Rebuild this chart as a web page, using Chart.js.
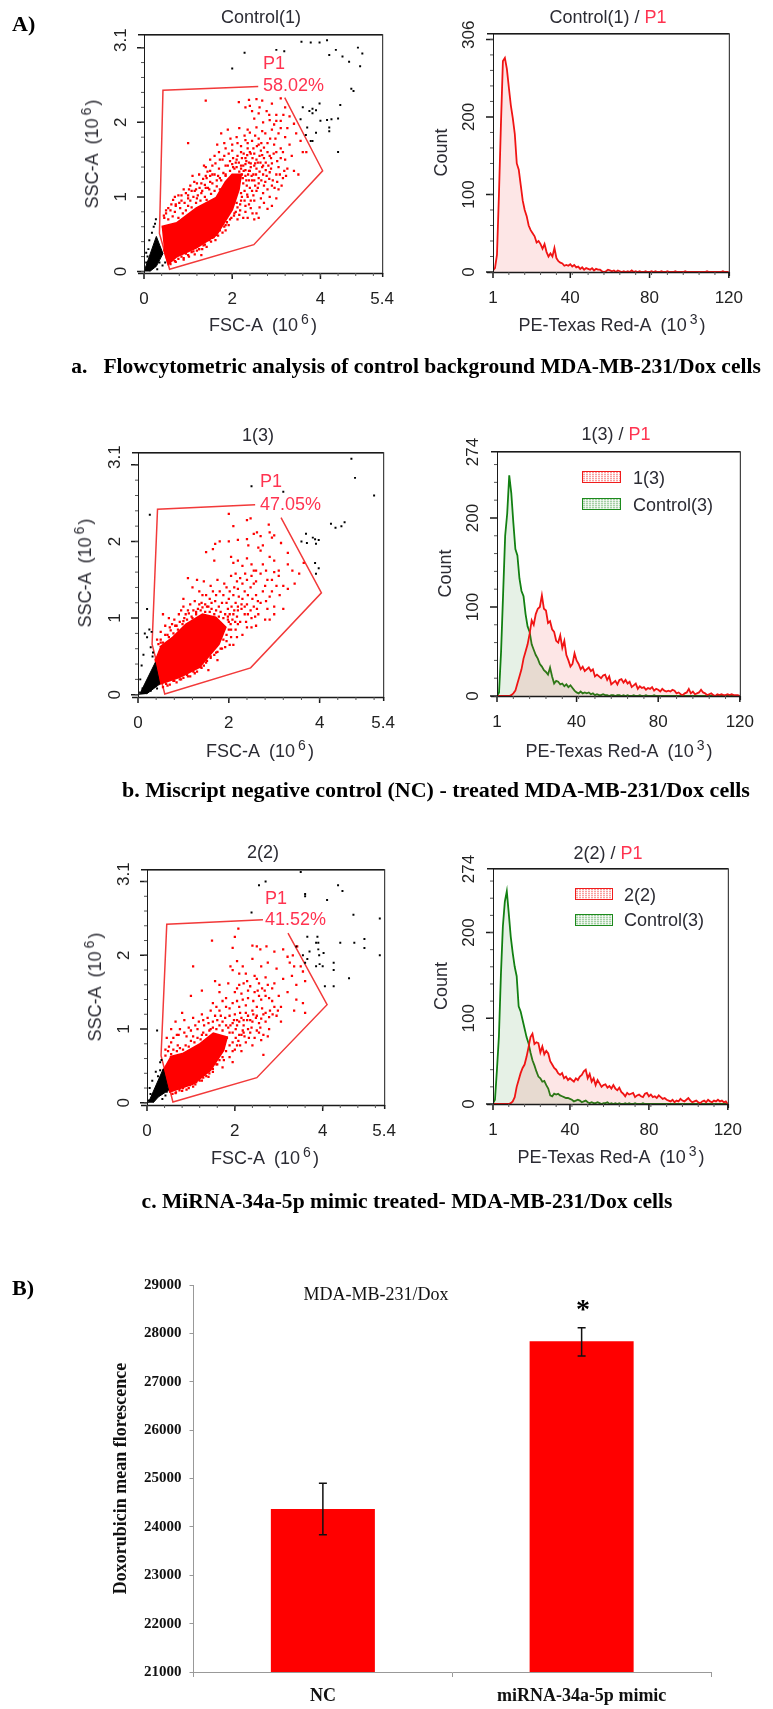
<!DOCTYPE html>
<html>
<head>
<meta charset="utf-8">
<title>Doxorubicin uptake</title>
<script src="https://cdn.jsdelivr.net/npm/chart.js@4"></script>
<style>
html, body { margin: 0; padding: 0; background: #fff; }
#page { position: relative; width: 773px; height: 1709px; overflow: hidden; filter: blur(0.35px); }
canvas { position: absolute; }
.t { position: absolute; white-space: pre; font-family: "Liberation Sans", Arial, sans-serif; font-size: 18px; color: #2b2b33; transform: translate(-50%, -50%); line-height: 1; }
.l { transform: translate(0, -50%); }
.r { transform: translate(-50%, -50%) rotate(-90deg); z-index: 2; }
.t sup { font-size: 14px; line-height: 0; vertical-align: 7px; margin: 0 2px 0 3px; }
.p1 { color: #ff3350; }
.s { font-family: "Liberation Serif", serif; font-weight: bold; color: #000; }
.box { position: absolute; box-sizing: border-box; border: 1.5px solid; }
.boxRed { border-color: #f01c1c; background: repeating-linear-gradient(0deg, rgba(255,255,255,.7) 0 1px, transparent 1px 2px), repeating-linear-gradient(90deg, #f9a0a0 0 2px, #fff 2px 3px); }
.boxGreen { border-color: #1c8a1c; background: repeating-linear-gradient(0deg, rgba(255,255,255,.6) 0 1px, transparent 1px 2px), repeating-linear-gradient(90deg, #a5cfa5 0 2px, #e8f3e8 2px 3px); }
</style>
</head>
<body>
<div id="page">
  <div class="t l s" style="left:12px;top:24px;font-size:22px">A)</div>
  <div class="t s" style="left:416px;top:367px;font-size:21.5px">a.   Flowcytometric analysis of control background MDA-MB-231/Dox cells</div>
  <div class="t s" style="left:436px;top:790px;font-size:22px">b. Miscript negative control (NC) - treated MDA-MB-231/Dox cells</div>
  <div class="t s" style="left:407px;top:1202px;font-size:21.6px">c. MiRNA-34a-5p mimic treated- MDA-MB-231/Dox cells</div>
  <div class="t l s" style="left:12px;top:1288px;font-size:22px">B)</div>

  <div class="t" style="left:261px;top:17px">Control(1)</div>
  <div class="t" style="left:608px;top:17px">Control(1) / <span class="p1">P1</span></div>
  <div class="t" style="left:258px;top:435px">1(3)</div>
  <div class="t" style="left:616px;top:434px">1(3) / <span class="p1">P1</span></div>
  <div class="t" style="left:263px;top:852px">2(2)</div>
  <div class="t" style="left:608px;top:853px">2(2) / <span class="p1">P1</span></div>

  <div class="t" style="left:263px;top:325px">FSC-A  (10<sup>6</sup>)</div>
  <div class="t" style="left:612px;top:325px">PE-Texas Red-A  (10<sup>3</sup>)</div>
  <div class="t" style="left:260px;top:751px">FSC-A  (10<sup>6</sup>)</div>
  <div class="t" style="left:619px;top:751px">PE-Texas Red-A  (10<sup>3</sup>)</div>
  <div class="t" style="left:265px;top:1158px">FSC-A  (10<sup>6</sup>)</div>
  <div class="t" style="left:611px;top:1157px">PE-Texas Red-A  (10<sup>3</sup>)</div>
  <div class="t r" style="left:92px;top:154px">SSC-A  (10<sup>6</sup>)</div>
  <div class="t r" style="left:85px;top:573px">SSC-A  (10<sup>6</sup>)</div>
  <div class="t r" style="left:95px;top:987px">SSC-A  (10<sup>6</sup>)</div>

  <div class="t l p1" style="left:263px;top:63px;z-index:2">P1</div>
  <div class="t l p1" style="left:263px;top:85px;z-index:2">58.02%</div>
  <div class="t l p1" style="left:260px;top:481px;z-index:2">P1</div>
  <div class="t l p1" style="left:260px;top:504px;z-index:2">47.05%</div>
  <div class="t l p1" style="left:265px;top:898px;z-index:2">P1</div>
  <div class="t l p1" style="left:265px;top:919px;z-index:2">41.52%</div>

  <div class="box boxRed" style="left:582px;top:471px;width:39px;height:12px;z-index:2"></div>
  <div class="t l" style="left:633px;top:478px;z-index:2">1(3)</div>
  <div class="box boxGreen" style="left:582px;top:498px;width:39px;height:12px;z-index:2"></div>
  <div class="t l" style="left:633px;top:505px;z-index:2">Control(3)</div>
  <div class="box boxRed" style="left:575px;top:888px;width:38px;height:12px;z-index:2"></div>
  <div class="t l" style="left:624px;top:895px;z-index:2">2(2)</div>
  <div class="box boxGreen" style="left:575px;top:914px;width:38px;height:12px;z-index:2"></div>
  <div class="t l" style="left:624px;top:920px;z-index:2">Control(3)</div>

  <div class="t" style="left:376px;top:1294px;font-family:'Liberation Serif',serif;font-size:18px;color:#111;z-index:2">MDA-MB-231/Dox</div>
  <div class="t s" style="left:583px;top:1309px;font-size:28px;z-index:2">*</div>
</div>

<script>
// ---- tick labels
var scatterXLabels = [0, 2, 4, 5.4];
var scatterYLabels = [0, 1, 2, 3.1];
var histXLabels = [1, 40, 80, 120];
var histYLabelsA = [0, 100, 200, 306];
var histYLabelsBC = [0, 100, 200, 274];
var barLabels = ["NC", "miRNA-34a-5p mimic"];

// ---- panel B bars
var barValues = [24370, 27836];
var barErrHigh = [24904, 28116];
var barErrLow = [23836, 27534];

// ---- histograms, one count per unit of PE-Texas Red-A from 1 to 120
var histBins = [];
for (var b = 1; b <= 120; b++) histBins.push(b);

var a2Red = [2,5,22,100,190,272,276,262,238,215,198,178,140,132,112,92,80,72,60,54,50,46,38,40,36,30,36,26,20,24,20,31,18,14,12,11,8,9,8,10,7,9,6,7,4,6,3,5,4,3,5,2,4,3,3,1,0,1,3,2,1,2,0,2,1,0,1,0,1,0,2,0,1,0,1,0,0,1,0,0,1,0,1,0,0,1,0,0,1,0,0,0,1,0,0,0,0,1,0,0,0,0,0,0,0,0,0,0,1,0,0,0,0,0,0,0,1,0,0,0];
var b2Red = [0,0,0,0,0,0,0,1,3,6,14,22,30,42,50,58,70,85,80,92,98,100,113,98,96,82,84,75,72,62,60,68,54,62,46,40,33,36,48,40,36,30,33,28,30,32,28,30,22,24,22,20,23,24,18,22,13,15,17,13,18,19,15,18,14,16,10,12,14,8,11,9,10,7,9,8,10,6,8,7,5,8,6,5,6,5,7,6,3,4,2,1,3,4,8,3,5,2,3,4,7,4,3,1,2,3,1,0,2,1,2,1,1,2,1,2,1,1,1,0];
var b2Green = [0,4,50,115,180,205,248,228,195,165,158,132,118,112,92,78,72,58,52,46,42,36,33,29,27,24,32,22,14,17,16,13,14,11,13,10,12,9,6,4,3,5,3,4,3,4,2,3,1,2,1,1,2,1,1,0,1,1,0,1,1,0,1,0,1,0,0,1,0,0,1,0,0,1,0,0,0,1,0,0,0,0,0,0,0,0,0,0,0,0,0,0,0,0,0,0,0,0,0,0,0,0,0,0,0,0,0,0,0,0,0,0,0,0,0,0,0,0,0,0];
var c2Red = [0,0,0,0,0,0,0,0,0,1,3,8,20,28,36,42,46,55,66,78,82,70,72,71,60,67,58,62,59,50,46,42,40,36,34,36,30,32,28,30,28,26,30,28,32,34,38,40,30,35,26,30,22,28,24,20,22,23,19,21,18,22,18,16,19,14,12,9,13,11,12,13,8,10,11,9,8,12,13,9,11,8,9,7,10,8,6,7,5,4,3,5,2,4,3,6,4,3,5,7,4,2,3,4,2,1,3,4,2,5,3,2,4,3,5,3,4,2,3,0];
var c2Green = [1,5,40,79,150,207,236,248,222,195,176,160,149,114,108,98,88,78,71,60,51,45,38,32,30,26,27,22,18,10,9,12,11,12,10,9,8,7,7,6,5,3,4,5,4,2,3,4,2,1,2,1,1,2,1,0,1,1,2,0,1,0,1,0,1,0,0,1,0,1,0,0,1,0,0,0,1,0,0,0,0,0,0,0,0,0,0,0,0,0,0,0,0,0,0,0,0,0,0,0,0,0,0,0,0,0,0,0,0,0,0,0,0,0,0,0,0,0,0,0];

// ---- scatter gates (x in 10^6, y in 10^6)
var a1Gate = [[3.19,2.33],[4.05,1.35],[2.49,0.36],[0.58,0.03],[0.35,0.51],[0.43,2.43],[2.59,2.48]];
var b1Gate = [[3.15,2.31],[4.04,1.33],[2.48,0.35],[0.59,0.01],[0.31,0.66],[0.43,2.42],[2.58,2.48]];
var c1Gate = [[3.21,2.30],[4.10,1.33],[2.50,0.34],[0.59,0.01],[0.32,0.64],[0.45,2.42],[2.64,2.48]];

// outlines of the saturated regions, where the dots merge into a solid patch
var a1RedCore = [[0.4,0.6],[0.74,0.65],[1.19,0.85],[1.64,0.99],[1.85,1.2],[2.0,1.3],[2.2,1.3],[2.15,1.1],[2.0,0.83],[1.64,0.49],[1.19,0.32],[0.74,0.2],[0.55,0.1],[0.45,0.3]];
var b1RedCore = [[0.38,0.47],[0.48,0.14],[0.92,0.23],[1.35,0.36],[1.78,0.66],[1.93,0.88],[1.71,1.01],[1.42,1.05],[1.06,0.92],[0.77,0.75],[0.48,0.62]];
var c1RedCore = [[0.37,0.46],[0.52,0.15],[1.06,0.26],[1.44,0.44],[1.74,0.71],[1.82,0.89],[1.51,0.94],[1.21,0.8],[0.83,0.67],[0.52,0.62]];
var a1BlackCore = [[0,0],[0.28,0.47],[0.43,0.24],[0.28,0.07],[0.13,0]];
var b1BlackCore = [[0.03,0],[0.38,0.42],[0.48,0.14],[0.19,0.01]];
var c1BlackCore = [[0.03,0],[0.37,0.46],[0.49,0.17],[0.26,0.08],[0.14,0]];

// single events
var a1Red = [[1.4,2.29],[2.15,2.27],[2.38,2.3],[2.55,2.31],[2.68,2.29],[2.9,2.25],[3.1,2.32],[2.3,2.2],[2.45,2.15],[2.62,2.2],[2.78,2.15],[3.0,2.1],[3.2,2.2],[3.3,2.08],[2.5,2.05],[2.7,2.0],[2.85,2.03],[2.95,1.97],[3.1,2.02],[3.25,1.92],[3.4,1.98],[2.35,1.9],[2.55,1.93],[2.75,1.85],[2.9,1.9],[3.05,1.85],[3.2,1.8],[3.45,1.85],[3.55,1.75],[1.75,1.85],[1.9,1.9],[2.1,1.8],[2.28,1.82],[2.45,1.75],[2.6,1.78],[2.8,1.72],[2.95,1.7],[3.1,1.65],[3.3,1.7],[3.6,1.6],[3.68,1.6],[1.0,1.72],[1.7,1.6],[1.85,1.65],[2.0,1.62],[2.2,1.6],[2.35,1.65],[2.5,1.58],[2.65,1.62],[2.85,1.55],[3.0,1.6],[3.2,1.5],[3.35,1.55],[1.6,1.55],[1.78,1.5],[1.95,1.48],[2.1,1.5],[2.3,1.52],[2.42,1.45],[2.55,1.5],[2.7,1.42],[2.9,1.45],[3.05,1.4],[3.25,1.38],[3.4,1.35],[3.5,1.3],[1.4,1.4],[1.55,1.42],[1.7,1.38],[1.85,1.42],[2.2,1.42],[2.38,1.35],[2.55,1.38],[2.7,1.3],[2.85,1.33],[3.0,1.3],[3.15,1.25],[1.25,1.3],[1.4,1.28],[1.55,1.3],[1.65,1.22],[2.3,1.28],[2.45,1.22],[2.6,1.18],[2.75,1.2],[2.9,1.15],[3.05,1.1],[1.05,1.15],[1.2,1.18],[1.38,1.16],[1.5,1.2],[2.25,1.18],[2.4,1.12],[2.55,1.08],[2.7,1.05],[2.85,1.0],[3.0,0.98],[1.0,1.02],[1.15,1.08],[1.3,1.05],[1.45,1.12],[2.2,1.05],[2.35,1.0],[2.5,0.95],[2.65,0.98],[2.9,0.88],[0.85,0.95],[1.0,0.98],[1.2,0.98],[2.2,0.95],[2.3,0.88],[2.42,0.85],[2.55,0.78],[2.6,0.72],[2.35,0.72],[2.18,0.82],[2.25,0.72],[2.12,0.7],[2.05,0.78],[1.95,0.7],[1.85,0.62],[1.8,0.7],[0.55,0.85],[0.62,0.9],[0.72,0.88],[0.45,0.75],[0.5,0.82],[0.8,0.92],[1.7,0.6],[1.6,0.5],[1.55,0.45],[1.42,0.42],[1.35,0.35],[1.25,0.3],[1.12,0.27],[1.0,0.22],[1.85,0.55],[1.3,0.22],[0.9,0.18],[0.7,0.14],[1.88,0.78],[1.98,0.85],[2.1,0.92],[1.95,1.0],[2.22,1.3],[1.9,1.2],[1.72,1.25],[2.02,1.4],[2.18,1.25],[1.85,1.3]];
var a1Fringe = [[0.46,0.72],[0.5,0.78],[0.55,0.7],[0.6,0.82],[0.65,0.74],[0.7,0.8],[0.72,0.9],[0.78,0.72],[0.82,0.85],[0.88,0.78],[0.92,0.92],[0.95,0.82],[1.0,0.88],[1.05,0.95],[1.08,0.86],[1.12,1.0],[1.18,0.92],[1.22,1.02],[1.28,0.95],[1.32,1.08],[1.38,1.0],[1.42,0.96],[1.48,1.1],[1.52,1.04],[1.55,1.18],[1.6,1.08],[1.65,1.14],[1.68,1.28],[1.72,1.1],[1.75,1.22],[1.8,1.32],[1.85,1.28],[1.9,1.42],[1.95,1.35],[2.0,1.44],[2.05,1.38],[2.1,1.4],[2.15,1.46],[2.2,1.38],[2.25,1.42],[2.3,1.36],[2.12,1.55],[2.22,1.52],[2.32,1.48],[2.42,1.4],[2.48,1.3],[0.6,0.1],[0.65,0.16],[0.72,0.13],[0.78,0.17],[0.85,0.2],[0.9,0.16],[0.95,0.24],[1.02,0.2],[1.08,0.26],[1.15,0.23],[1.2,0.28],[1.25,0.3],[1.32,0.3],[1.38,0.36],[1.42,0.33],[1.48,0.42],[1.52,0.4],[1.58,0.46],[1.62,0.42],[1.68,0.48],[1.72,0.55],[1.78,0.52],[1.82,0.6],[1.88,0.66],[1.92,0.62],[1.98,0.72],[2.04,0.75],[2.08,0.8],[2.12,0.86],[2.18,0.9],[2.22,1.0],[2.28,1.08],[2.33,1.15],[2.38,1.22],[2.45,1.08],[2.52,1.15],[2.28,0.95],[2.34,1.03],[2.42,0.95],[2.48,1.02],[2.6,1.25],[2.68,1.4],[2.78,1.28],[2.4,1.6],[2.52,1.45],[2.62,1.55],[2.72,1.52],[2.82,1.42],[2.6,1.7],[2.35,1.72],[2.42,1.58],[2.48,1.65],[2.2,1.68],[2.12,1.72],[2.0,1.7],[1.92,1.58],[1.82,1.55],[1.72,1.5],[1.62,1.45],[1.5,1.35],[1.42,1.25],[1.3,1.18],[1.18,1.1],[1.08,1.08],[0.95,1.05],[1.4,1.12],[0.7,1.0],[0.85,1.02]];
var a1Dense = [[2.02,1.52],[2.08,1.46],[2.16,1.34],[2.24,1.25],[2.26,1.35],[2.32,1.22],[2.36,1.3],[2.4,1.35],[2.44,1.28],[2.5,1.22],[2.54,1.3],[2.58,1.12],[2.62,1.34],[2.66,1.22],[2.72,1.15],[2.76,1.36],[2.8,1.1],[2.84,1.24],[2.88,1.38],[2.92,1.22],[2.96,1.12],[3.02,1.2],[3.08,1.3],[3.12,1.15],[3.18,1.35],[3.22,1.28],[2.26,1.58],[2.3,1.44],[2.34,1.56],[2.38,1.46],[2.46,1.52],[2.5,1.42],[2.58,1.46],[2.64,1.46],[2.68,1.56],[2.76,1.46],[2.8,1.6],[2.88,1.52],[2.94,1.58],[3.02,1.48],[3.1,1.52],[3.15,1.6],[2.3,1.76],[2.52,1.82],[2.66,1.72],[2.72,1.66],[2.86,1.78],[2.56,1.68],[2.4,1.86],[2.68,1.88],[2.98,1.78],[3.1,1.92],[3.0,2.02],[3.16,2.1],[2.84,2.1],[2.6,2.12],[2.4,2.22],[1.96,1.78],[2.16,1.92],[1.82,1.72],[1.66,1.7],[1.5,1.5],[1.44,1.34],[1.36,1.42],[1.26,1.12],[1.14,1.2],[1.02,1.1],[0.9,1.1],[0.78,1.02],[0.66,0.96],[1.6,1.3],[1.34,1.24],[1.5,1.28],[1.1,1.28],[2.38,0.9],[2.46,0.78],[2.62,0.86],[2.72,0.92],[2.8,0.84],[2.5,0.7],[2.3,0.8],[2.16,0.76]];
var a1Black = [[2.0,2.72],[2.28,2.93],[3.0,2.97],[3.18,2.95],[3.57,3.08],[3.78,3.07],[3.98,3.07],[4.15,3.1],[4.2,2.9],[4.35,2.97],[4.5,2.88],[4.65,2.81],[4.85,3.0],[4.95,2.92],[4.9,2.75],[4.7,2.45],[4.75,2.42],[3.6,2.2],[3.75,2.15],[3.82,2.18],[3.9,2.16],[3.98,2.25],[4.45,2.23],[3.82,2.12],[4.0,2.02],[4.25,2.04],[4.15,2.03],[4.4,2.05],[3.55,2.04],[3.7,1.93],[4.2,1.93],[3.9,1.86],[3.67,1.83],[4.2,1.88],[3.78,1.75],[3.82,1.75],[4.4,1.6],[0.1,0.3],[0.12,0.42],[0.18,0.52],[0.22,0.6],[0.27,0.7],[0.25,0.64],[0.08,0.2],[0.05,0.25],[0.35,0.12],[0.42,0.08],[0.3,0.03],[0.48,0.12],[0.05,0.12],[0.1,0.05]];

var b1Red = [[2.0,2.36],[2.1,2.2],[2.48,2.3],[2.4,2.28],[2.88,2.22],[1.8,2.0],[1.7,1.97],[2.0,2.0],[2.2,2.02],[2.4,2.03],[2.43,1.95],[2.55,2.1],[2.62,2.12],[2.7,2.07],[2.9,2.12],[2.95,2.05],[3.0,2.08],[3.15,1.98],[3.3,1.85],[2.65,1.92],[2.7,1.88],[2.75,1.95],[1.5,1.86],[1.68,1.75],[1.65,1.9],[2.05,1.8],[2.1,1.72],[2.2,1.75],[2.3,1.68],[2.4,1.78],[2.5,1.7],[2.6,1.62],[2.75,1.7],[2.9,1.8],[3.0,1.75],[3.1,1.62],[3.3,1.7],[3.4,1.62],[3.65,1.72],[3.55,1.58],[1.1,1.52],[1.3,1.5],[1.45,1.48],[1.6,1.42],[1.75,1.5],[1.9,1.45],[2.05,1.55],[2.15,1.58],[2.25,1.52],[2.4,1.5],[2.5,1.55],[2.6,1.48],[2.7,1.58],[2.85,1.5],[3.0,1.6],[3.1,1.55],[3.2,1.42],[1.2,1.4],[1.35,1.35],[1.5,1.3],[1.65,1.35],[1.8,1.35],[1.95,1.4],[2.1,1.3],[2.2,1.38],[2.35,1.35],[2.48,1.4],[2.6,1.3],[2.75,1.35],[2.9,1.28],[3.05,1.42],[3.45,1.45],[3.3,1.38],[3.12,1.3],[1.0,1.15],[1.0,1.25],[1.15,1.18],[1.28,1.08],[1.4,1.2],[1.55,1.15],[1.7,1.22],[1.85,1.2],[2.0,1.25],[2.15,1.2],[2.3,1.25],[2.4,1.18],[2.55,1.15],[2.7,1.2],[2.85,1.12],[3.0,1.15],[3.2,1.12],[2.2,1.1],[2.35,1.05],[2.5,1.0],[2.65,1.05],[2.8,0.98],[3.0,1.05],[0.55,1.05],[0.8,0.98],[0.9,1.05],[1.05,1.05],[1.2,1.0],[2.1,1.05],[2.25,0.95],[2.4,0.88],[2.6,0.9],[2.9,0.98],[0.5,0.82],[0.6,0.9],[0.7,0.88],[0.85,0.9],[1.0,0.96],[2.0,0.95],[2.15,0.85],[2.3,0.78],[2.05,0.75],[2.1,0.65],[1.95,0.7],[1.85,0.6],[0.42,0.72],[0.5,0.68],[0.65,0.78],[1.72,0.55],[1.6,0.5],[1.5,0.42],[1.4,0.35],[1.25,0.28],[1.1,0.24],[0.95,0.2],[0.8,0.18],[0.65,0.12],[1.75,0.45],[1.55,0.32]];
var b1Fringe = [[0.45,0.66],[0.5,0.72],[0.55,0.68],[0.6,0.78],[0.68,0.75],[0.72,0.84],[0.78,0.8],[0.82,0.9],[0.88,0.85],[0.92,0.95],[0.98,0.92],[1.02,1.0],[1.08,0.98],[1.12,1.06],[1.18,1.02],[1.22,1.1],[1.28,1.05],[1.32,1.12],[1.38,1.1],[1.42,1.14],[1.48,1.08],[1.52,1.15],[1.58,1.08],[1.62,1.12],[1.68,1.05],[1.72,1.1],[1.78,1.02],[1.82,1.08],[1.88,1.0],[1.92,1.05],[1.98,0.98],[0.55,0.1],[0.62,0.14],[0.7,0.13],[0.78,0.18],[0.85,0.16],[0.92,0.2],[1.0,0.22],[1.08,0.26],[1.15,0.24],[1.22,0.3],[1.3,0.3],[1.38,0.36],[1.45,0.38],[1.52,0.44],[1.6,0.48],[1.68,0.52],[1.75,0.56],[1.82,0.6],[1.88,0.72],[1.95,0.78],[2.0,0.85],[2.04,0.92]];
var b1Dense = [[1.98,1.12],[2.06,1.15],[2.12,1.1],[2.18,1.02],[2.02,1.05],[2.08,0.98],[2.28,1.12],[2.35,1.15],[2.42,1.05],[2.48,1.1],[2.58,1.02],[2.62,1.12],[2.22,1.28],[2.28,1.18],[2.42,1.3],[2.52,1.25],[2.64,1.22],[2.82,1.22],[2.95,1.35],[1.95,1.2],[1.78,1.15],[1.62,1.2],[1.48,1.18],[1.35,1.18],[1.25,1.22],[1.1,1.1],[0.95,1.1],[0.75,0.92],[0.68,1.0],[1.88,1.3],[1.72,1.3],[1.58,1.25],[1.42,1.3],[2.02,1.35],[2.12,1.4],[2.3,1.45],[2.55,1.45],[2.8,1.42],[2.95,1.5],[2.18,1.48],[2.36,1.58],[2.55,1.62],[2.82,1.62],[2.2,1.15],[1.98,1.02],[2.14,0.95],[1.86,0.85],[2.05,0.85],[2.18,0.75],[2.2,0.92],[2.38,0.95],[2.5,0.88],[2.02,0.65],[1.92,0.62]];
var b1Black = [[0.26,2.35],[2.5,2.72],[3.2,2.65],[4.7,3.08],[4.78,2.83],[5.2,2.6],[4.25,2.23],[4.35,2.18],[4.48,2.2],[4.55,2.25],[3.7,2.1],[3.85,2.05],[3.92,1.97],[3.9,2.03],[3.98,2.02],[3.72,1.98],[3.6,2.0],[3.9,1.72],[3.98,1.65],[3.92,1.58],[0.2,1.12],[0.15,0.8],[0.25,0.85],[0.3,0.82],[0.2,0.75],[0.08,0.38],[0.12,0.52],[0.28,0.62],[0.33,0.55],[0.32,0.5],[0.05,0.2],[0.35,0.1],[0.42,0.08],[0.28,0.05],[0.1,0.08],[0.02,0.03]];

var c1Red = [[2.08,2.36],[2.0,2.25],[1.48,2.2],[2.4,2.13],[2.5,2.12],[2.58,2.08],[2.72,2.12],[2.9,2.05],[3.1,2.08],[3.2,1.98],[3.32,2.0],[3.42,2.12],[1.95,2.1],[2.05,1.92],[2.18,1.85],[2.4,1.95],[2.6,1.85],[2.75,1.9],[2.95,1.82],[3.25,1.9],[3.35,1.85],[3.5,1.85],[3.55,1.78],[1.05,1.85],[1.9,1.85],[1.95,1.8],[2.1,1.75],[2.25,1.75],[2.45,1.72],[2.5,1.68],[2.7,1.7],[2.9,1.62],[3.1,1.68],[3.3,1.72],[3.4,1.6],[3.6,1.65],[1.55,1.65],[1.65,1.6],[1.85,1.62],[2.05,1.55],[2.2,1.62],[2.35,1.58],[2.55,1.62],[2.75,1.6],[2.85,1.55],[3.0,1.45],[3.2,1.5],[3.4,1.4],[3.55,1.35],[1.0,1.45],[1.25,1.52],[1.65,1.5],[1.8,1.42],[2.0,1.5],[2.15,1.48],[2.3,1.42],[2.45,1.5],[2.6,1.4],[2.7,1.45],[2.85,1.38],[3.05,1.3],[3.35,1.25],[3.6,1.22],[0.8,1.22],[1.25,1.2],[1.5,1.35],[1.65,1.25],[1.8,1.3],[1.95,1.35],[2.1,1.3],[2.25,1.32],[2.4,1.25],[2.5,1.3],[2.65,1.2],[2.8,1.25],[2.95,1.18],[3.05,1.1],[0.65,1.1],[0.85,1.12],[1.05,1.15],[1.4,1.08],[1.55,1.18],[1.72,1.1],[1.88,1.18],[2.0,1.2],[2.15,1.15],[2.3,1.18],[2.4,1.1],[2.55,1.08],[2.7,1.1],[2.78,1.0],[0.55,1.0],[0.75,1.0],[0.95,1.02],[1.15,1.0],[1.3,1.05],[1.45,1.0],[1.85,1.02],[2.05,1.05],[2.2,1.05],[2.35,0.95],[2.5,0.98],[2.65,0.92],[0.45,0.88],[0.6,0.88],[0.72,0.92],[0.9,0.9],[1.05,0.9],[1.25,0.92],[1.95,0.95],[2.1,0.92],[2.25,0.82],[2.4,0.78],[2.65,0.65],[2.05,0.78],[2.15,0.7],[1.95,0.7],[1.88,0.62],[0.42,0.72],[0.5,0.76],[0.7,0.78],[1.75,0.58],[1.6,0.52],[1.5,0.42],[1.4,0.35],[1.25,0.3],[1.1,0.25],[0.95,0.2],[0.8,0.16],[0.65,0.13],[1.95,0.55],[1.72,0.48]];
var c1Fringe = [[0.42,0.64],[0.48,0.7],[0.55,0.66],[0.6,0.72],[0.68,0.7],[0.75,0.74],[0.82,0.72],[0.88,0.78],[0.95,0.76],[1.0,0.84],[1.08,0.82],[1.15,0.88],[1.22,0.86],[1.28,0.95],[1.35,0.92],[1.42,0.98],[1.5,1.02],[1.58,1.0],[1.65,1.05],[1.72,0.98],[1.8,1.05],[1.88,0.95],[1.95,1.08],[2.02,1.0],[2.1,1.1],[2.18,0.98],[2.28,1.12],[2.38,1.02],[2.48,1.15],[2.58,1.02],[0.58,0.12],[0.66,0.14],[0.74,0.17],[0.82,0.2],[0.9,0.18],[0.98,0.24],[1.05,0.22],[1.12,0.28],[1.2,0.3],[1.28,0.34],[1.35,0.36],[1.42,0.4],[1.5,0.46],[1.58,0.52],[1.65,0.58],[1.72,0.62],[1.8,0.7],[1.88,0.78],[1.95,0.82],[2.02,0.88],[2.08,0.84],[2.15,0.92],[2.22,0.9],[2.3,1.0]];
var c1Dense = [[1.9,1.05],[1.98,1.12],[2.05,1.12],[2.12,1.22],[2.2,1.12],[2.25,1.22],[2.35,1.12],[2.42,1.2],[2.5,1.18],[2.6,1.14],[2.62,1.28],[2.7,1.22],[2.78,1.16],[2.86,1.2],[1.6,1.12],[1.68,1.18],[1.78,1.15],[1.5,1.1],[1.38,1.15],[1.28,1.12],[1.18,1.1],[1.1,1.05],[1.0,0.98],[0.85,0.95],[0.68,0.92],[0.55,0.82],[1.45,1.25],[1.58,1.3],[1.72,1.38],[1.88,1.28],[2.05,1.38],[2.18,1.4],[2.3,1.52],[2.42,1.38],[2.55,1.45],[2.62,1.55],[2.78,1.42],[2.9,1.3],[2.98,1.25],[2.1,1.6],[2.28,1.65],[2.52,1.52],[2.68,1.52],[1.82,0.88],[2.0,0.72],[2.12,0.78],[2.2,0.95],[2.32,0.88],[2.45,0.88],[2.55,0.95],[2.6,0.85],[2.75,0.9]];
var c1Black = [[2.55,2.95],[2.7,3.0],[3.5,3.13],[4.35,2.95],[4.45,2.87],[3.6,2.83],[3.6,2.8],[4.1,2.75],[2.38,2.58],[4.7,2.55],[5.3,2.5],[5.45,2.43],[3.65,2.25],[3.88,2.25],[3.85,2.17],[3.9,2.17],[3.4,2.12],[4.4,2.17],[4.72,2.17],[4.95,2.22],[4.95,2.1],[3.7,2.05],[3.9,2.08],[3.92,2.0],[4.02,2.03],[3.55,2.0],[3.6,1.9],[3.65,1.95],[3.85,1.85],[3.93,1.88],[4.0,1.85],[4.25,1.9],[4.25,1.8],[5.3,2.0],[4.6,1.69],[4.05,1.58],[4.25,1.58],[0.23,0.98],[0.3,0.55],[0.33,0.58],[0.2,0.42],[0.12,0.3],[0.06,0.2],[0.25,0.36],[0.3,0.44],[0.42,0.1],[0.35,0.05],[0.45,0.15],[0.08,0.12],[0.04,0.03]];

// ---- shared helpers
var TICK_SANS = "Liberation Sans";

function fixedTicks(values) {
    return function (scale) {
        scale.ticks = values.map(function (v) { return { value: v }; });
    };
}

function range(from, to, step) {
    var out = [];
    for (var v = from; v <= to + 1e-6; v += step) out.push(v);
    return out;
}

// frame and outside tick marks of the cytometer plots
var frameTicks = {
    id: "frameTicks",
    afterDraw: function (chart, args, opts) {
        var c = chart.ctx, a = chart.chartArea, xs = chart.scales.x, ys = chart.scales.y;
        c.save();
        c.strokeStyle = "#1a1a1a";
        c.lineWidth = 1;
        c.strokeRect(a.left + 0.5, a.top + 0.5, a.right - a.left, a.bottom - a.top);
        c.lineWidth = 1.5;
        c.beginPath();
        c.moveTo(a.left - 6, a.top + 0.5); c.lineTo(a.right, a.top + 0.5);
        c.moveTo(a.left - 6, a.bottom + 0.5); c.lineTo(a.right, a.bottom + 0.5);
        c.moveTo(a.right + 0.5, a.bottom); c.lineTo(a.right + 0.5, a.bottom + 4);
        opts.xMajor.forEach(function (v) {
            var p = xs.getPixelForValue(v);
            c.moveTo(p, a.bottom); c.lineTo(p, a.bottom + 6);
        });
        opts.yMajor.forEach(function (v) {
            var p = ys.getPixelForValue(v);
            c.moveTo(a.left, p); c.lineTo(a.left - 7, p);
        });
        c.stroke();
        c.lineWidth = 1;
        c.strokeStyle = "#555";
        c.beginPath();
        opts.xMinor.forEach(function (v) {
            var p = xs.getPixelForValue(v);
            c.moveTo(p, a.bottom); c.lineTo(p, a.bottom + 3);
        });
        opts.yMinor.forEach(function (v) {
            var p = ys.getPixelForValue(v);
            c.moveTo(a.left, p); c.lineTo(a.left - 3, p);
        });
        c.stroke();
        c.restore();
    }
};

function placeCanvas(id, box, w, h) {
    var cv = document.createElement("canvas");
    cv.id = id;
    cv.width = w;
    cv.height = h;
    cv.style.left = box.left + "px";
    cv.style.top = box.top + "px";
    document.getElementById("page").appendChild(cv);
    return cv;
}

function flowChart(id, plot, scales, datasets, tickSets) {
    // canvas = 62px left axis + plot + right margin; 20px top margin + plot + 62px bottom axis
    var w = plot.right - plot.left, h = plot.bottom - plot.top;
    var cv = placeCanvas(id, { left: plot.left - 62, top: plot.top - 20 }, w + 62 + 26, h + 20 + 62);
    return new Chart(cv, {
        type: "scatter",
        data: { datasets: datasets },
        plugins: [frameTicks],
        options: {
            responsive: false,
            animation: false,
            layout: { padding: { top: 20, right: 26 } },
            plugins: {
                legend: { display: false },
                tooltip: { enabled: false },
                frameTicks: tickSets
            },
            scales: {
                x: {
                    type: "linear",
                    min: scales.xMin, max: scales.xMax,
                    afterBuildTicks: fixedTicks(scales.xLabels),
                    afterFit: function (s) { s.height = 62; },
                    grid: { display: false, drawTicks: false },
                    border: { display: false },
                    ticks: { padding: 16, autoSkip: false, maxRotation: 0, color: "#222", font: { family: TICK_SANS, size: 17 }, callback: function (v) { return String(v); } }
                },
                y: {
                    type: "linear",
                    min: scales.yMin, max: scales.yMax,
                    afterBuildTicks: fixedTicks(scales.yLabels),
                    afterFit: function (s) { s.width = 62; },
                    grid: { display: false, drawTicks: false },
                    border: { display: false },
                    ticks: { padding: scales.yPad, minRotation: 90, maxRotation: 90, crossAlign: "center", autoSkip: false, color: "#222", font: { family: TICK_SANS, size: 17 }, callback: function (v) { return String(v); } },
                    title: { display: !!scales.yTitle, text: scales.yTitle, color: "#2b2b33", padding: 0, font: { family: TICK_SANS, size: 18 } }
                }
            }
        }
    });
}

function scatterSets(gate, redCore, blackCore, red, black) {
    return [
        { data: blackCore, showLine: true, fill: "shape", backgroundColor: "#000", borderColor: "#000", borderWidth: 1, pointRadius: 0, tension: 0 },
        { data: black, pointStyle: "rect", pointRadius: 1.4, backgroundColor: "#000", borderWidth: 0 },
        { data: redCore, showLine: true, fill: "shape", backgroundColor: "#f00", borderColor: "#f00", borderWidth: 2, pointRadius: 0, tension: 0 },
        { data: red, pointStyle: "rect", pointRadius: 1.6, backgroundColor: "#f00", borderWidth: 0 },
        { data: gate, showLine: true, fill: false, borderColor: "#f23a3a", borderWidth: 1.5, pointRadius: 0, tension: 0 }
    ];
}

function histSet(values, line, area) {
    return {
        data: histBins.map(function (b, i) { return { x: b, y: values[i] }; }),
        showLine: true, fill: "origin",
        backgroundColor: area, borderColor: line, borderWidth: 1.8, pointRadius: 0, tension: 0
    };
}

var scatterTicks = { xMajor: [0, 2, 4], xMinor: range(0, 5.4, 0.4), yMajor: [0, 1, 2, 3], yMinor: range(0, 3, 0.2) };
var histTicksA = { xMajor: [1, 40, 80, 120], xMinor: range(1, 120, 8), yMajor: [0, 100, 200, 300], yMinor: range(0, 300, 20) };
var histTicksBC = { xMajor: [1, 40, 80, 120], xMinor: range(1, 120, 8), yMajor: [0, 100, 200], yMinor: range(0, 260, 20) };

var RED_AREA = "rgba(240,60,60,0.13)", GREEN_AREA = "rgba(30,130,30,0.11)";

function scatterAxes(yMin, yMax) {
    return { xMin: 0, xMax: 5.4, yMin: yMin, yMax: yMax, xLabels: scatterXLabels, yLabels: scatterYLabels, yPad: 11 };
}

function histAxes(yMax, labels) {
    return { xMin: 1, xMax: 120, yMin: 0, yMax: yMax, xLabels: histXLabels, yLabels: labels, yTitle: "Count", yPad: 10 };
}

flowChart("a1", { left: 144, right: 384, top: 33, bottom: 273 }, scatterAxes(-0.02, 3.18), scatterSets(a1Gate, a1RedCore, a1BlackCore, a1Red.concat(a1Fringe, a1Dense), a1Black), scatterTicks);
flowChart("b1", { left: 138, right: 385, top: 451, bottom: 697 }, scatterAxes(-0.03, 3.165), scatterSets(b1Gate, b1RedCore, b1BlackCore, b1Red.concat(b1Fringe, b1Dense), b1Black), scatterTicks);
flowChart("c1", { left: 147, right: 386, top: 868, bottom: 1105 }, scatterAxes(-0.03, 3.167), scatterSets(c1Gate, c1RedCore, c1BlackCore, c1Red.concat(c1Fringe, c1Dense), c1Black), scatterTicks);

flowChart("a2", { left: 493, right: 733, top: 33, bottom: 272 }, histAxes(308, histYLabelsA), [histSet(a2Red, "#f01414", RED_AREA)], histTicksA);
flowChart("b2", { left: 497, right: 744, top: 451, bottom: 696 }, histAxes(275, histYLabelsBC), [histSet(b2Red, "#f01414", RED_AREA), histSet(b2Green, "#128012", GREEN_AREA)], histTicksBC);
flowChart("c2", { left: 493, right: 732, top: 868, bottom: 1104 }, histAxes(275, histYLabelsBC), [histSet(c2Red, "#f01414", RED_AREA), histSet(c2Green, "#128012", GREEN_AREA)], histTicksBC);

// ---- panel B
var errorBars = {
    id: "errorBars",
    afterDatasetsDraw: function (chart) {
        var c = chart.ctx, xs = chart.scales.x, ys = chart.scales.y;
        c.save();
        c.strokeStyle = "#111";
        c.lineWidth = 1.5;
        c.beginPath();
        barValues.forEach(function (v, i) {
            var x = xs.getPixelForValue(i), hi = ys.getPixelForValue(barErrHigh[i]), lo = ys.getPixelForValue(barErrLow[i]);
            c.moveTo(x, hi); c.lineTo(x, lo);
            c.moveTo(x - 4, hi); c.lineTo(x + 4, hi);
            c.moveTo(x - 4, lo); c.lineTo(x + 4, lo);
        });
        c.stroke();
        c.restore();
    }
};

var barCanvas = placeCanvas("bars", { left: 100, top: 1268 }, 629, 441);
new Chart(barCanvas, {
    type: "bar",
    data: {
        labels: barLabels,
        datasets: [{ data: barValues, backgroundColor: "#ff0000", categoryPercentage: 0.402, barPercentage: 1 }]
    },
    plugins: [errorBars],
    options: {
        responsive: false,
        animation: false,
        layout: { padding: { top: 15, right: 18 } },
        plugins: { legend: { display: false }, tooltip: { enabled: false } },
        scales: {
            x: {
                afterFit: function (s) { s.height = 37; },
                grid: { drawOnChartArea: false, tickLength: 5, color: "#999" },
                border: { color: "#999" },
                ticks: { padding: 9, maxRotation: 0, color: "#111", font: { family: "Liberation Serif", size: 18, weight: "bold" } }
            },
            y: {
                min: 21000, max: 29000,
                afterFit: function (s) { s.width = 93.5; },
                grid: { drawOnChartArea: false, tickLength: 4, color: "#999" },
                border: { color: "#999" },
                ticks: { stepSize: 1000, padding: 8, color: "#111", callback: function (v) { return String(v); }, font: { family: "Liberation Serif", size: 15, weight: "bold" } },
                title: { display: true, text: "Doxorubicin mean florescence", color: "#111", padding: { top: 11, bottom: 0 }, font: { family: "Liberation Serif", size: 18, weight: "bold" } }
            }
        }
    }
});
</script>
</body>
</html>
